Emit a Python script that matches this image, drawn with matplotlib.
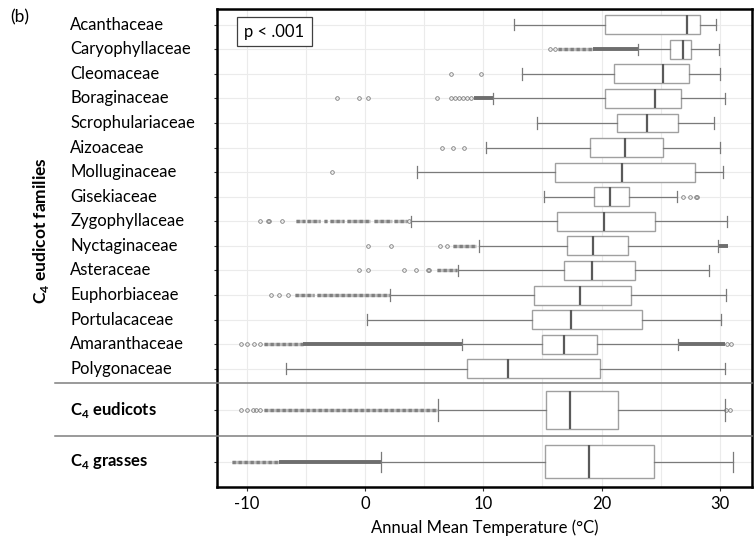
import matplotlib.pyplot as plt
from matplotlib.patches import Rectangle

plt.rcParams['font.family'] = 'Lato'
plt.rcParams['mathtext.fontset'] = 'custom'
plt.rcParams['mathtext.rm'] = 'Lato'
plt.rcParams['mathtext.bf'] = 'Lato:bold'
plt.rcParams['axes.unicode_minus'] = False

# Row labels (top to bottom)
families = ["Acanthaceae", "Caryophyllaceae", "Cleomaceae", "Boraginaceae",
            "Scrophulariaceae", "Aizoaceae", "Molluginaceae", "Gisekiaceae",
            "Zygophyllaceae", "Nyctaginaceae", "Asteraceae", "Euphorbiaceae",
            "Portulacaceae", "Amaranthaceae", "Polygonaceae"]
groups = [r"C$_\mathbf{4}$ eudicots", r"C$_\mathbf{4}$ grasses"]

# Box statistics (deg C): families then C4 eudicots, C4 grasses
whislo = [12.6, 23.1, 13.3, 10.8, 14.5, 10.2, 4.4, 15.1, 3.9, 9.6, 7.9, 2.1, 0.15, 8.2, -6.7, 6.2, 1.35]
q1 = [20.3, 25.8, 21.05, 20.3, 21.3, 19.0, 16.05, 19.35, 16.2, 17.1, 16.8, 14.3, 14.1, 15.0, 8.6, 15.3, 15.2]
med = [27.2, 26.9, 25.2, 24.5, 23.85, 21.95, 21.7, 20.75, 20.2, 19.3, 19.2, 18.2, 17.4, 16.8, 12.1, 17.35, 18.9]
q3 = [28.3, 27.6, 27.4, 26.75, 26.5, 25.2, 27.9, 22.3, 24.5, 22.2, 22.8, 22.5, 23.4, 19.6, 19.85, 21.35, 24.45]
whishi = [29.7, 29.9, 30.0, 30.4, 29.5, 30.0, 30.3, 26.35, 30.6, 29.8, 29.1, 30.5, 30.1, 26.5, 30.4, 30.4, 31.1]

# Individual outliers
fliers = [
    [],
    [15.6, 16.05],
    [7.3, 9.8],
    [-2.4, -0.55, 0.25, 6.05, 7.3, 7.6, 7.95, 8.3, 8.6, 9.0],
    [],
    [6.55, 7.45, 8.4],
    [-2.8],
    [26.85, 27.5, 27.95, 28.05],
    [-8.9, -8.2, -8.15, -7.0, 3.7],
    [0.25, 2.2, 6.3, 6.95],
    [-0.55, 0.25, 3.3, 4.35, 5.3, 5.45],
    [-7.95, -7.25, -6.55],
    [],
    [-10.5, -9.95, -9.4, -8.9, 30.6, 30.9],
    [],
    [-10.5, -10.0, -9.45, -9.2, -8.9, 30.55, 30.85],
    [],
]
# Runs of closely packed outliers (chains of circles)
chains = [
    [], [(16.3, 19.3)], [], [], [], [], [], [],
    [(-5.85, -5.1), (-4.9, -3.8), (-3.45, -3.2), (-2.95, -1.8), (-1.5, 0.45), (0.75, 2.3), (2.45, 3.55)],
    [(7.45, 9.4)],
    [(6.05, 7.75)],
    [(-5.95, -4.35), (-4.05, 2.1)],
    [], [(-8.55, -5.2)], [], [(-8.55, 6.1)], [(-11.25, -7.3)],
]
# Solid runs of overlapping outliers
dense = [
    [], [(19.3, 23.1)], [], [(9.2, 10.8)], [], [], [], [], [],
    [(29.9, 30.7)], [], [], [], [(-5.2, 8.2), (26.5, 30.4)], [], [], [(-7.3, 1.35)],
]

positions = list(range(15)) + [15.68, 17.78]
widths = [0.77] * 15 + [1.55, 1.34]

fig = plt.figure(figsize=(7.56, 5.39), dpi=100)
ax = fig.add_axes([0.2866, 0.0970, 0.7085, 0.8863])

stats = []
for i in range(len(positions)):
    stats.append(dict(med=med[i], q1=q1[i], q3=q3[i], whislo=whislo[i],
                      whishi=whishi[i], fliers=fliers[i]))

gray = '#7a7a7a'
ax.bxp(stats, positions=positions, widths=widths, orientation='horizontal',
       patch_artist=True, manage_ticks=False,
       capwidths=[w * 0.6 for w in widths],
       boxprops=dict(facecolor='white', edgecolor='#a0a0a0', linewidth=1.0),
       medianprops=dict(color='#5a5a5a', linewidth=1.6),
       whiskerprops=dict(color=gray, linewidth=0.9),
       capprops=dict(color=gray, linewidth=0.9),
       flierprops=dict(marker='o', markersize=2.6, markerfacecolor='none',
                       markeredgecolor=gray, markeredgewidth=0.6),
       zorder=3)

for i, y in enumerate(positions):
    for lo, hi in chains[i]:
        ax.hlines(y, lo, hi, color='#bdbdbd', linewidth=2.4, zorder=2)
        ax.hlines(y, lo, hi, color='#808080', linewidth=2.4,
                  linestyle=(0, (1.0, 0.8)), zorder=2)
    for lo, hi in dense[i]:
        ax.hlines(y, lo, hi, color='#6e6e6e', linewidth=2.8, zorder=2)

ax.set_xlim(-12.54, 32.74)
ax.set_ylim(18.80, -0.64)
ax.set_xticks([-10, 0, 10, 20, 30])
ax.set_xticks([-5, 5, 15, 25], minor=True)
ax.set_yticks(positions)
ax.set_yticklabels([])
ax.grid(True, which='both', color='#ebebeb', linewidth=0.8, zorder=0)
ax.set_axisbelow(True)
ax.tick_params(axis='x', which='major', length=3, color='#333333', labelsize=12, pad=4)
ax.tick_params(axis='x', which='minor', length=0)
ax.tick_params(axis='y', length=2.5, color='#333333')
for s in ax.spines.values():
    s.set_linewidth(1.8)
    s.set_color('black')

ax.set_xlabel("Annual Mean Temperature (\u00b0C)", fontsize=12, labelpad=5)

ytr = ax.get_yaxis_transform()
for i, name in enumerate(families):
    ax.text(-0.273, positions[i], name, transform=ytr, ha='left', va='center', fontsize=12)
for j, name in enumerate(groups):
    ax.text(-0.273, positions[15 + j], name, transform=ytr, ha='left', va='center',
            fontsize=12, fontweight='bold')

# panel dividers
for yd in [14.57, 16.74]:
    ax.plot([-0.302, 1.0], [yd, yd], transform=ytr, color='#7f7f7f', linewidth=1.1,
            clip_on=False, zorder=4)

ax.add_patch(Rectangle((0.0373, 0.9225), 0.140, 0.0601, transform=ax.transAxes,
                       facecolor='white', edgecolor='#404040', linewidth=0.9, zorder=5))
ax.text(0.0373 + 0.070, 0.9525, "p < .001", transform=ax.transAxes, ha='center',
        va='center', fontsize=12, zorder=6)

fig.text(10 / 756, 1 - 17 / 539, "(b)", ha='left', va='center', fontsize=12.5)
fig.text(41 / 756, 1 - 231 / 539, r"C$_\mathbf{4}$ eudicot families", rotation=90,
         ha='center', va='center', fontsize=12.5, fontweight='bold')

fig.savefig("out.png", dpi=100)
